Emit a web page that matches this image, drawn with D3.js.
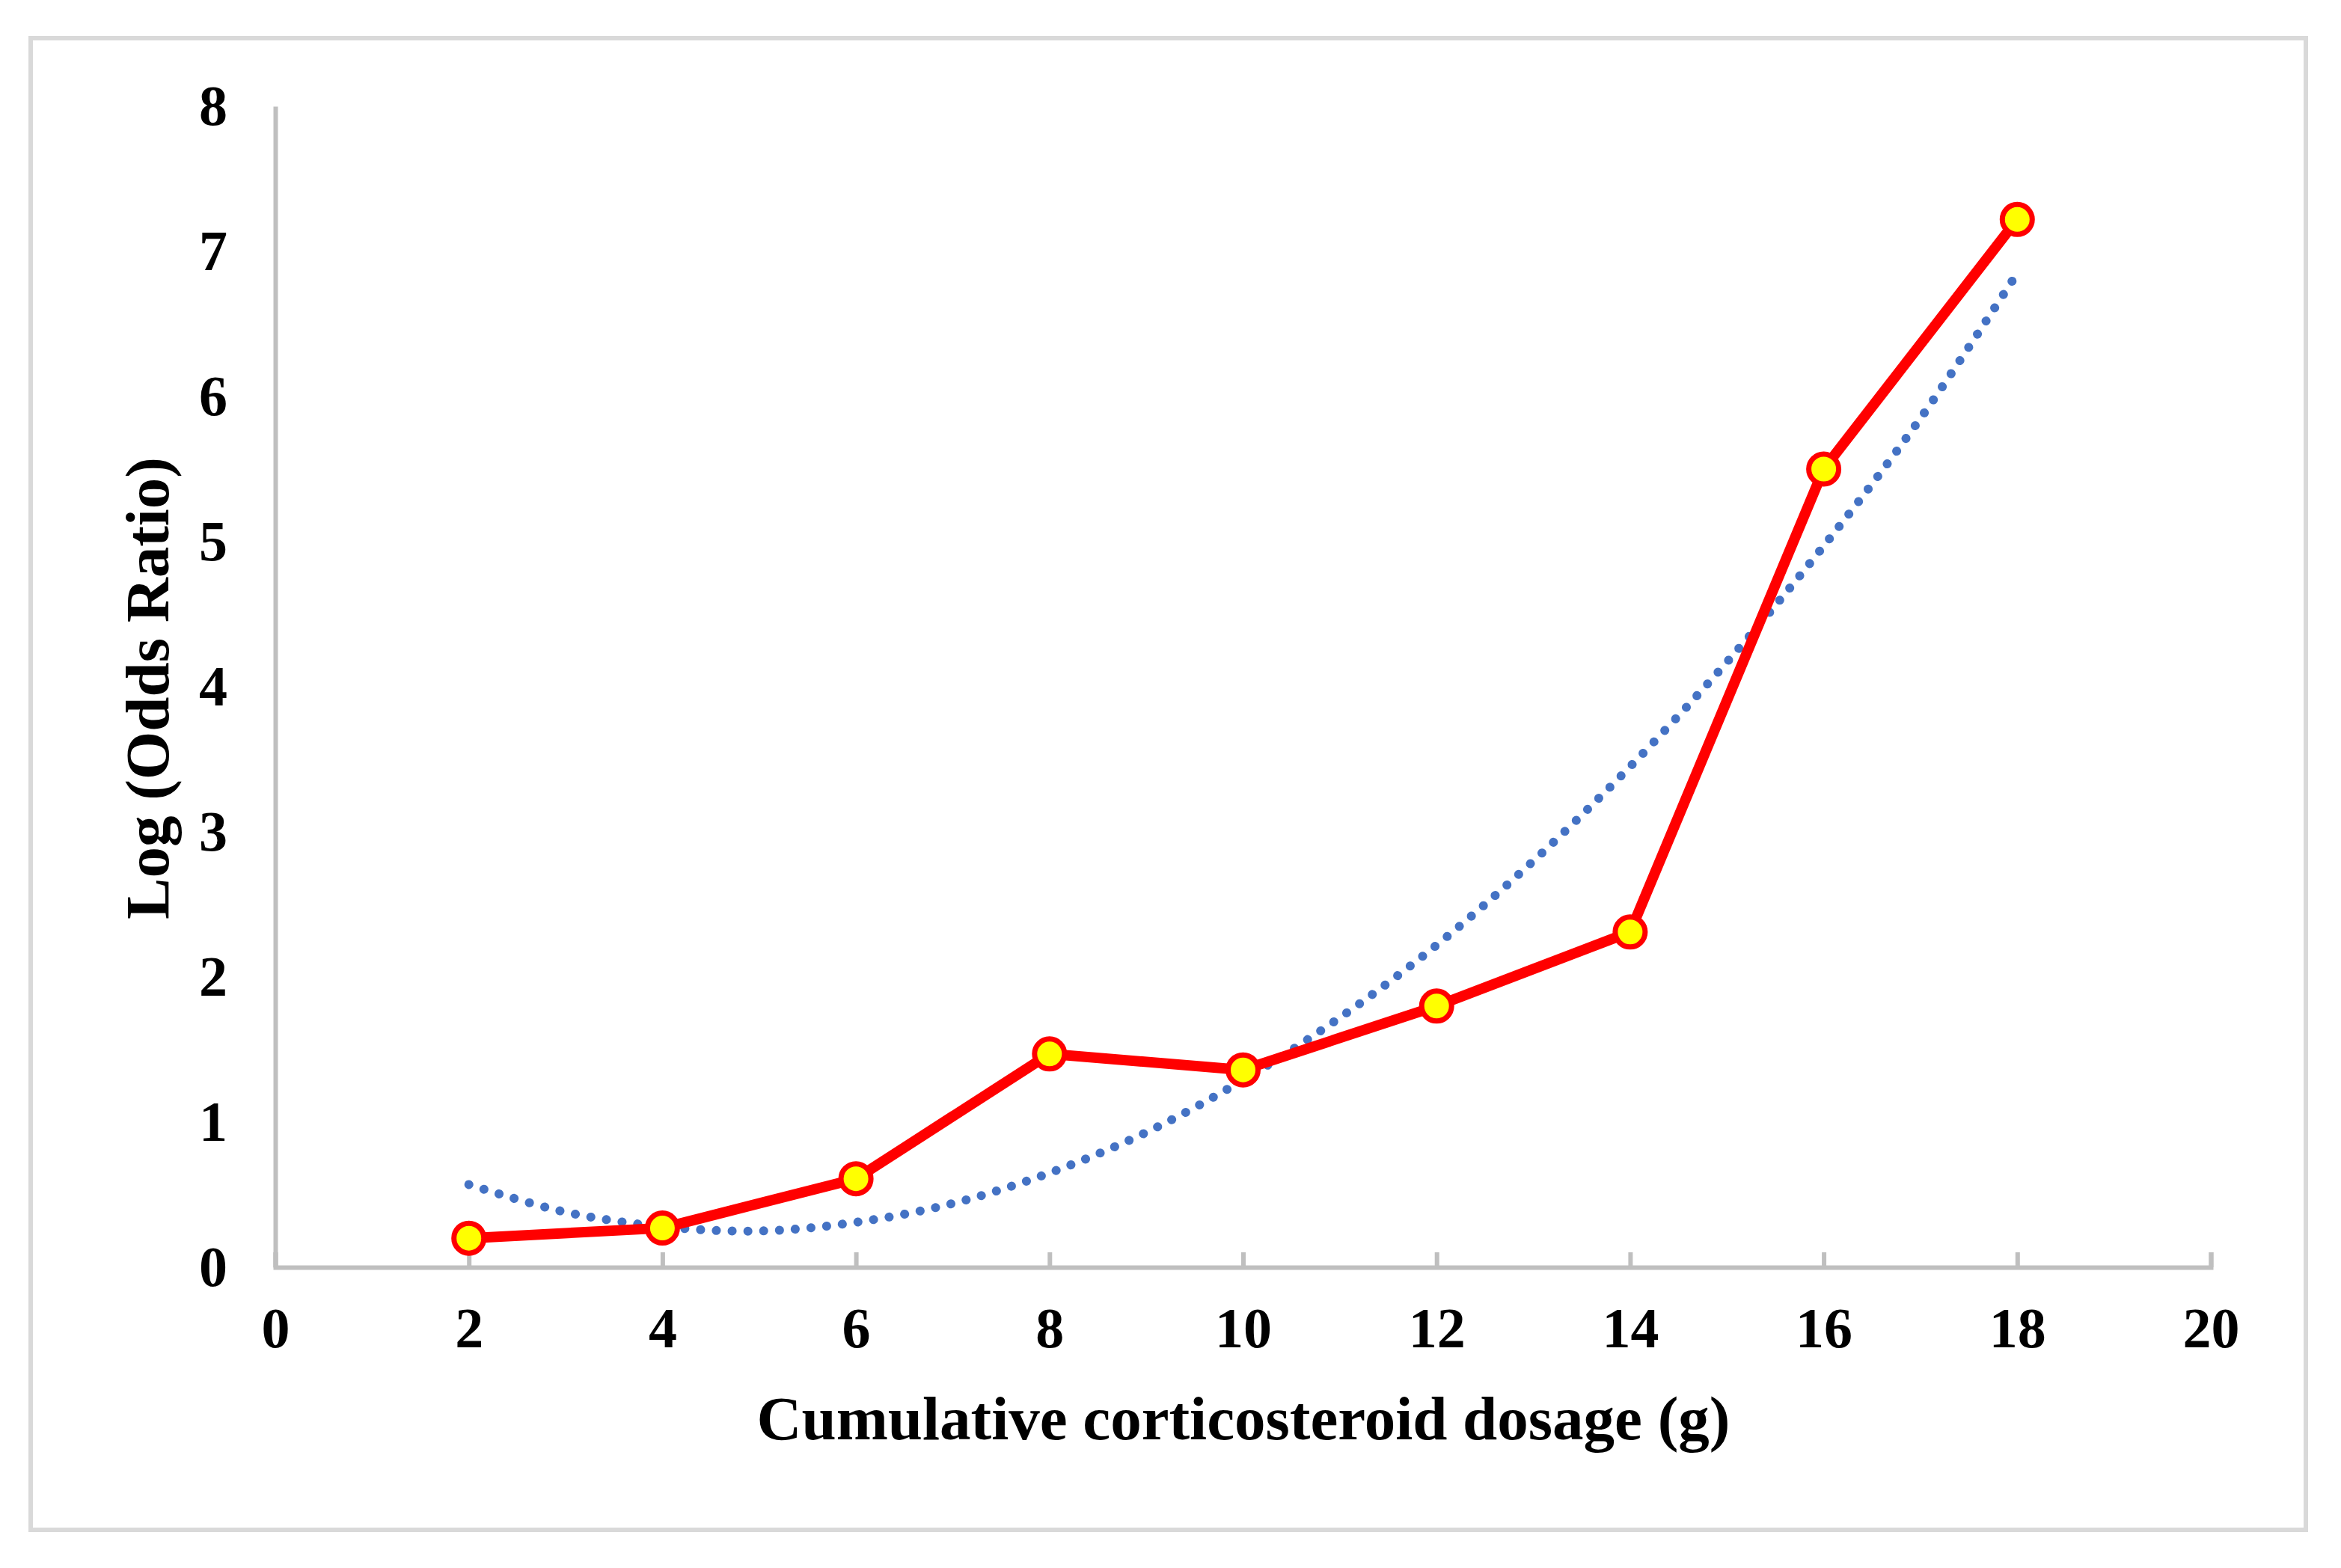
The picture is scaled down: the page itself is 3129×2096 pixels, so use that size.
<!DOCTYPE html>
<html>
<head>
<meta charset="utf-8">
<script src="https://cdn.jsdelivr.net/npm/d3@7"></script>
<style>
  body { margin: 0; background: #fff; }
  text { font-family: "Liberation Serif", "Times New Roman", serif; font-weight: bold; }
</style>
</head>
<body>
<div id="chart"></div>
<script>
// data
var dosage = [2, 4, 6, 8, 10, 12, 14, 16, 18];
var logOdds = [0.2, 0.27, 0.61, 1.47, 1.36, 1.8, 2.31, 5.5, 7.22];

var trendX = [2, 3, 4, 5, 6, 7, 8, 9, 10, 11, 12, 13, 14, 15, 16, 17, 18];
var trendY = [0.57, 0.38, 0.28, 0.25, 0.31, 0.44, 0.65, 0.93, 1.29, 1.72, 2.22, 2.8, 3.45, 4.17, 4.97, 5.85, 6.85];

var xTicks = [0, 2, 4, 6, 8, 10, 12, 14, 16, 18, 20];
var yTicks = [0, 1, 2, 3, 4, 5, 6, 7, 8];

var W = 3129, H = 2096;
var margin = {top: 142, right: 174, bottom: 402, left: 368},
    width = W - margin.left - margin.right,
    height = H - margin.top - margin.bottom;

var root = d3.select("#chart")
  .append("svg")
    .attr("width", W)
    .attr("height", H);

// outer frame
root.append("rect")
  .attr("x", 41).attr("y", 51)
  .attr("width", 3041).attr("height", 1994)
  .attr("fill", "#fff")
  .attr("stroke", "#d9d9d9")
  .attr("stroke-width", 6);

var svg = root.append("g")
  .attr("transform", "translate(" + margin.left + "," + margin.top + ")");

var x = d3.scaleLinear().domain([0, 20]).range([0, width]);
var y = d3.scaleLinear().domain([0, 8]).range([height, 0]);

// X axis, ticks point up into the plot
var xAxis = svg.append("g")
  .attr("transform", "translate(0," + height + ")")
  .call(d3.axisBottom(x).tickValues(xTicks).tickSize(-20).tickPadding(53));

// Y axis, no ticks
var yAxis = svg.append("g")
  .call(d3.axisLeft(y).tickValues(yTicks).tickSize(0).tickPadding(64));

[xAxis, yAxis].forEach(function(a) {
  a.selectAll("path, line")
    .attr("stroke", "#bfbfbf")
    .attr("stroke-width", 6);
  a.selectAll("text")
    .attr("fill", "#000")
    .style("font-size", "76px")
    .style("font-family", "'Liberation Serif', serif")
    .style("font-weight", "bold");
});

// axis titles
svg.append("text")
  .attr("text-anchor", "middle")
  .attr("x", 1294)
  .attr("y", 1782)
  .style("font-size", "83px")
  .text("Cumulative corticosteroid dosage (g)");

svg.append("text")
  .attr("text-anchor", "middle")
  .attr("transform", "rotate(-90)")
  .attr("x", -(920 - margin.top))
  .attr("y", -143)
  .style("font-size", "83px")
  .text("Log (Odds Ratio)");

// trend line
var trend = trendX.map(function(d, i) { return {x: d, y: trendY[i]}; });
svg.append("path")
  .datum(trend)
  .attr("fill", "none")
  .attr("stroke", "#4472c4")
  .attr("stroke-width", 12)
  .attr("stroke-linecap", "round")
  .attr("stroke-dasharray", "0.1 21")
  .attr("d", d3.line()
    .curve(d3.curveCatmullRom)
    .x(function(d) { return x(d.x); })
    .y(function(d) { return y(d.y); }));

// data line
var points = dosage.map(function(d, i) { return {x: d, y: logOdds[i]}; });
svg.append("path")
  .datum(points)
  .attr("fill", "none")
  .attr("stroke", "#ff0000")
  .attr("stroke-width", 14)
  .attr("stroke-linejoin", "round")
  .attr("d", d3.line()
    .x(function(d) { return x(d.x); })
    .y(function(d) { return y(d.y); }));

// markers
svg.append("g")
  .selectAll("circle")
  .data(points)
  .enter()
  .append("circle")
    .attr("cx", function(d) { return x(d.x); })
    .attr("cy", function(d) { return y(d.y); })
    .attr("r", 20)
    .attr("fill", "#ffff00")
    .attr("stroke", "#ff0000")
    .attr("stroke-width", 7);
</script>
</body>
</html>
